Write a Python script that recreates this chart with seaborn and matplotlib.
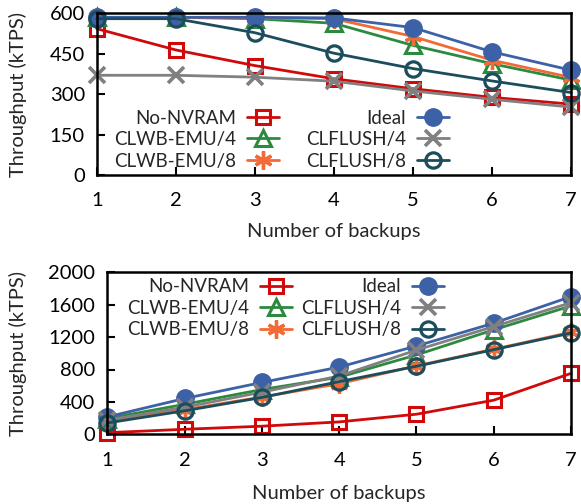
import matplotlib
matplotlib.use("Agg")
import matplotlib.pyplot as plt
import seaborn as sns
import pandas as pd

sns.set_theme(style="white")
plt.rcParams['font.family'] = ['Lato', 'DejaVu Sans']

backups = [1, 2, 3, 4, 5, 6, 7]
series_names = ["No-NVRAM", "CLWB-EMU/4", "CLWB-EMU/8", "Ideal", "CLFLUSH/4", "CLFLUSH/8"]

# top panel (kTPS)
top_no_nvram = [543, 464, 406, 357, 320, 288, 263]
top_clwb4 = [585, 585, 580, 563, 481, 413, 352]
top_clwb8 = [585, 585, 583, 580, 514, 426, 362]
top_ideal = [585, 585, 585, 583, 547, 457, 389]
top_clflush4 = [370, 370, 363, 348, 312, 281, 252]
top_clflush8 = [580, 580, 528, 452, 395, 349, 306]

# bottom panel (kTPS)
bot_no_nvram = [20, 62, 100, 153, 248, 421, 752]
bot_clwb4 = [195, 370, 553, 705, 980, 1290, 1585]
bot_clwb8 = [160, 305, 460, 625, 845, 1050, 1260]
bot_ideal = [215, 442, 640, 830, 1090, 1372, 1700]
bot_clflush4 = [175, 335, 520, 720, 1040, 1330, 1625]
bot_clflush8 = [140, 290, 455, 650, 840, 1045, 1250]

top_yticks = [0, 150, 300, 450, 600]
bot_yticks = [0, 400, 800, 1200, 1600, 2000]

colors = {"No-NVRAM": "#d00a0a", "CLWB-EMU/4": "#2b8a3e", "CLWB-EMU/8": "#f26a35",
          "Ideal": "#3c61a6", "CLFLUSH/4": "#808080", "CLFLUSH/8": "#1c4d5c"}
mstyle = {
    "No-NVRAM": dict(marker="s", markersize=10.5, mfc="none", mew=2.2),
    "CLWB-EMU/4": dict(marker="^", markersize=12, mfc="none", mew=2.2),
    "CLWB-EMU/8": dict(marker=(6, 2, 0), markersize=13, mew=2.4),
    "Ideal": dict(marker="o", markersize=12.5, mew=1),
    "CLFLUSH/4": dict(marker="x", markersize=12, mew=2.6),
    "CLFLUSH/8": dict(marker="o", markersize=11, mfc="none", mew=2.3),
}

top_data = [top_no_nvram, top_clwb4, top_clwb8, top_ideal, top_clflush4, top_clflush8]
bot_data = [bot_no_nvram, bot_clwb4, bot_clwb8, bot_ideal, bot_clflush4, bot_clflush8]

W, H = 581, 504
fig = plt.figure(figsize=(W/100, H/100), dpi=100)
ax1 = fig.add_axes([96.7/W, 1-175/H, (571-96.7)/W, (175-13.3)/H])
ax2 = fig.add_axes([107.3/W, 1-434.3/H, (571-107.3)/W, (434.3-272.3)/H])

FS = 14.5
LFS = 13.5

def draw(ax, data, yticks, leg_anchor, colspace, ylab_x, xlab_y):
    for name, vals in zip(series_names, data):
        df = pd.DataFrame({"x": backups, "y": vals})
        st = dict(mstyle[name])
        sns.lineplot(data=df, x="x", y="y", ax=ax, color=colors[name], lw=2.0,
                     label=name, clip_on=False, mec=colors[name], **st)
    ax.set_xlim(1, 7)
    ax.set_ylim(yticks[0], yticks[-1])
    ax.set_xticks(backups)
    ax.set_yticks(yticks)
    ax.tick_params(axis="both", direction="in", length=6, width=1.5, labelsize=FS,
                   bottom=True, left=True, top=False, right=False, colors="black")
    ax.tick_params(axis="x", pad=12.5)
    ax.tick_params(axis="y", pad=8.5)
    for sp in ax.spines.values():
        sp.set_linewidth(1.8)
        sp.set_color("black")
    ax.set_xlabel("Number of backups", fontsize=FS, va="center")
    ax.set_ylabel("Throughput (kTPS)", fontsize=FS, va="center")
    ax.xaxis.set_label_coords(0.5, xlab_y)
    ax.yaxis.set_label_coords(ylab_x, 0.5)
    leg = ax.legend(ncol=2, loc="upper left", bbox_to_anchor=leg_anchor, frameon=False,
                    markerfirst=False, fontsize=LFS, handlelength=1.7, handletextpad=0.59,
                    columnspacing=colspace, labelspacing=0.24, borderpad=0, borderaxespad=0)
    return leg

draw(ax1, top_data, top_yticks, (0.036, 0.405), 1.44, (18-96.7)/474.3, -(232-175)/161.7)
draw(ax2, bot_data, bot_yticks, (0.042, 0.962), 0.48, (18-107.3)/463.7, -(493.3-434.3)/162)

fig.savefig("out.png", dpi=100)
